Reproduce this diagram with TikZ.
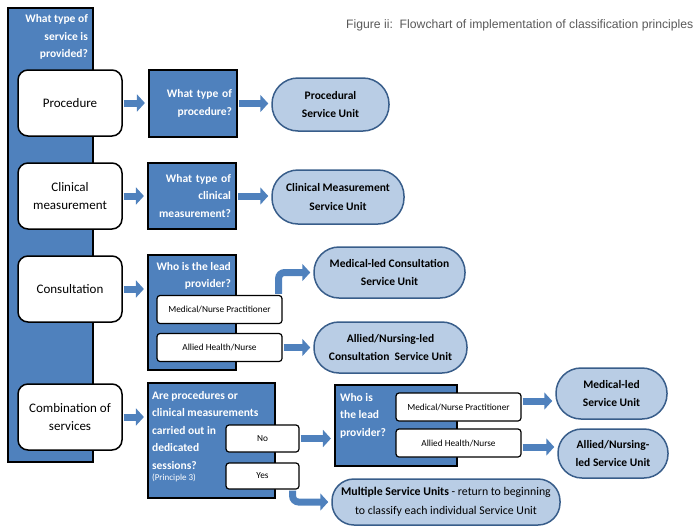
\documentclass[tikz,border=0pt]{standalone}
\usepackage{fontspec}
\setmainfont{Carlito}
\newfontfamily\captionfont{Liberation Sans}
\usepackage{xcolor}
\usetikzlibrary{arrows.meta, positioning}
\definecolor{boxblue}{RGB}{79,129,189}
\definecolor{unitfill}{RGB}{185,205,229}
\definecolor{unitline}{RGB}{56,93,138}
\definecolor{captiongray}{RGB}{89,89,89}
\tikzset{
  service/.style={rectangle, draw=black, line width=1.5pt, rounded corners=10pt, fill=white,
    minimum width=104pt, minimum height=66pt, align=center, font=\fontsize{13}{18.5}\selectfont},
  question/.style={rectangle, draw=black, line width=2.2pt, fill=boxblue, text=white,
    inner sep=5pt, font=\fontsize{11.5}{17.5}\selectfont\bfseries},
  qtext/.style={text=white, inner sep=0pt, font=\fontsize{11.5}{17.5}\selectfont\bfseries},
  option/.style={rectangle, draw=black, line width=1.2pt, rounded corners=3pt, fill=white,
    minimum width=125pt, minimum height=28pt, font=\fontsize{9.3}{11}\selectfont},
  unit/.style={rectangle, draw=unitline, line width=1.5pt, rounded corners=25pt, fill=unitfill,
    align=center, font=\fontsize{11.5}{18.5}\selectfont\bfseries},
  flow/.style={-{Triangle[length=8pt,width=17pt]}, line width=7pt, draw=boxblue,
    shorten <=1pt, shorten >=3pt}
}

\begin{document}
\begin{tikzpicture}[x=1pt, y=-1pt]
  \useasboundingbox (0,0) rectangle (697,528);
  \node[anchor=west, inner sep=0pt, text=captiongray, font=\captionfont\fontsize{12.2}{14}\selectfont] (caption) at (346,25)
    {Figure ii:\ \ Flowchart of implementation of classification principles};

  \node[question, minimum width=85pt, minimum height=454pt] (svc) at (50.5,235) {};
  \node[qtext, anchor=north east, align=right] (svcq) at ([xshift=-6pt,yshift=-7.5pt]svc.north east) {What type of\\service is\\provided?};

  \node[service] (proc) at (70,103) {Procedure};
  \node[service] (clin) at (70,196) {Clinical\\measurement};
  \node[service] (cons) at (70,289) {Consultation};
  \node[service] (comb) at (70,417) {Combination of\\services};

  \node[question, text width=78pt, align=right, minimum height=67pt] (qproc) at (193,103.5) {What type of\\procedure?};
  \node[question, text width=78pt, align=right, minimum height=66pt] (qclin) at (192,196) {What type of\\clinical\\measurement?};
  \node[question, minimum width=88pt, minimum height=115pt] (qcons) at (192,312.5) {};
  \node[qtext, anchor=north east, align=right] (qconst) at ([xshift=-6pt,yshift=-8pt]qcons.north east) {Who is the lead\\provider?};
  \node[option] (cmnp) at (219.5,309.5) {Medical/Nurse Practitioner};
  \node[option] (cahn) at (219.5,347.5) {Allied Health/Nurse};

  \node[question, minimum width=127pt, minimum height=115pt] (qsess) at (211.5,440.5) {};
  \node[qtext, anchor=north west, align=left] (qsesst) at ([xshift=5pt,yshift=-9pt]qsess.north west)
    {Are procedures or\\clinical measurements\\carried out in\\dedicated\\sessions?\\[-6pt]{\fontsize{9}{10}\selectfont\mdseries (Principle 3)}};
  \node[option, minimum width=73pt, minimum height=27pt] (no) at (262.5,438.5) {No};
  \node[option, minimum width=73pt, minimum height=26pt] (yes) at (262.5,476) {Yes};

  \node[question, minimum width=122pt, minimum height=81pt] (qlead) at (396,425.5) {};
  \node[qtext, anchor=north west, align=left] (qleadt) at ([xshift=6pt,yshift=-9pt]qlead.north west) {Who is\\the lead\\provider?};
  \node[option] (lmnp) at (458.5,407) {Medical/Nurse Practitioner};
  \node[option] (lahn) at (458.5,443) {Allied Health/Nurse};

  \node[unit, minimum width=117pt, minimum height=53pt, rounded corners=26pt] (sproc) at (330.5,104.5) {Procedural\\Service Unit};
  \node[unit, minimum width=132pt, minimum height=54pt, rounded corners=26pt] (sclin) at (338,197) {Clinical Measurement\\Service Unit};
  \node[unit, minimum width=151pt, minimum height=51pt] (smed) at (389.5,272.5) {Medical-led Consultation\\Service Unit};
  \node[unit, minimum width=153pt, minimum height=51pt] (sallied) at (390.5,347.5) {Allied/Nursing-led\\Consultation\ \ Service Unit};
  \node[unit, minimum width=111pt, minimum height=51pt] (smedled) at (611.5,393.5) {Medical-led\\Service Unit};
  \node[unit, minimum width=110pt, minimum height=49pt, rounded corners=24pt] (salled) at (613,453.5) {Allied/Nursing-\\led Service Unit};
  \node[unit, minimum width=228pt, minimum height=46pt, rounded corners=22pt, font=\fontsize{11.8}{18.5}\selectfont] (smulti) at (446,502)
    {\textbf{Multiple Service Units} - return to beginning\\to classify each individual Service Unit};

  \draw[flow] (proc.east) -- (proc.east -| qproc.west);
  \draw[flow] (qproc.east) -- (qproc.east -| sproc.west);
  \draw[flow] (clin.east) -- (clin.east -| qclin.west);
  \draw[flow] (qclin.east) -- (qclin.east -| sclin.west);
  \draw[flow] (cons.east) -- (cons.east -| qcons.west);
  \draw[flow, rounded corners=6pt] ([xshift=-4pt]cmnp.north east) |- (smed.west);
  \draw[flow] (cahn.east) -- (cahn.east -| sallied.west);
  \draw[flow] (comb.east) -- (comb.east -| qsess.west);
  \draw[flow] (no.east) -- (no.east -| qlead.west);
  \draw[flow, rounded corners=6pt] ([xshift=-7pt]yes.south east) |- (smulti.west);
  \draw[flow] ([yshift=6pt]lmnp.east) -- ([yshift=6pt]lmnp.east -| smedled.west);
  \draw[flow] ([yshift=-4pt]lahn.east) -- ([yshift=-4pt]lahn.east -| salled.west);
\end{tikzpicture}
\end{document}
